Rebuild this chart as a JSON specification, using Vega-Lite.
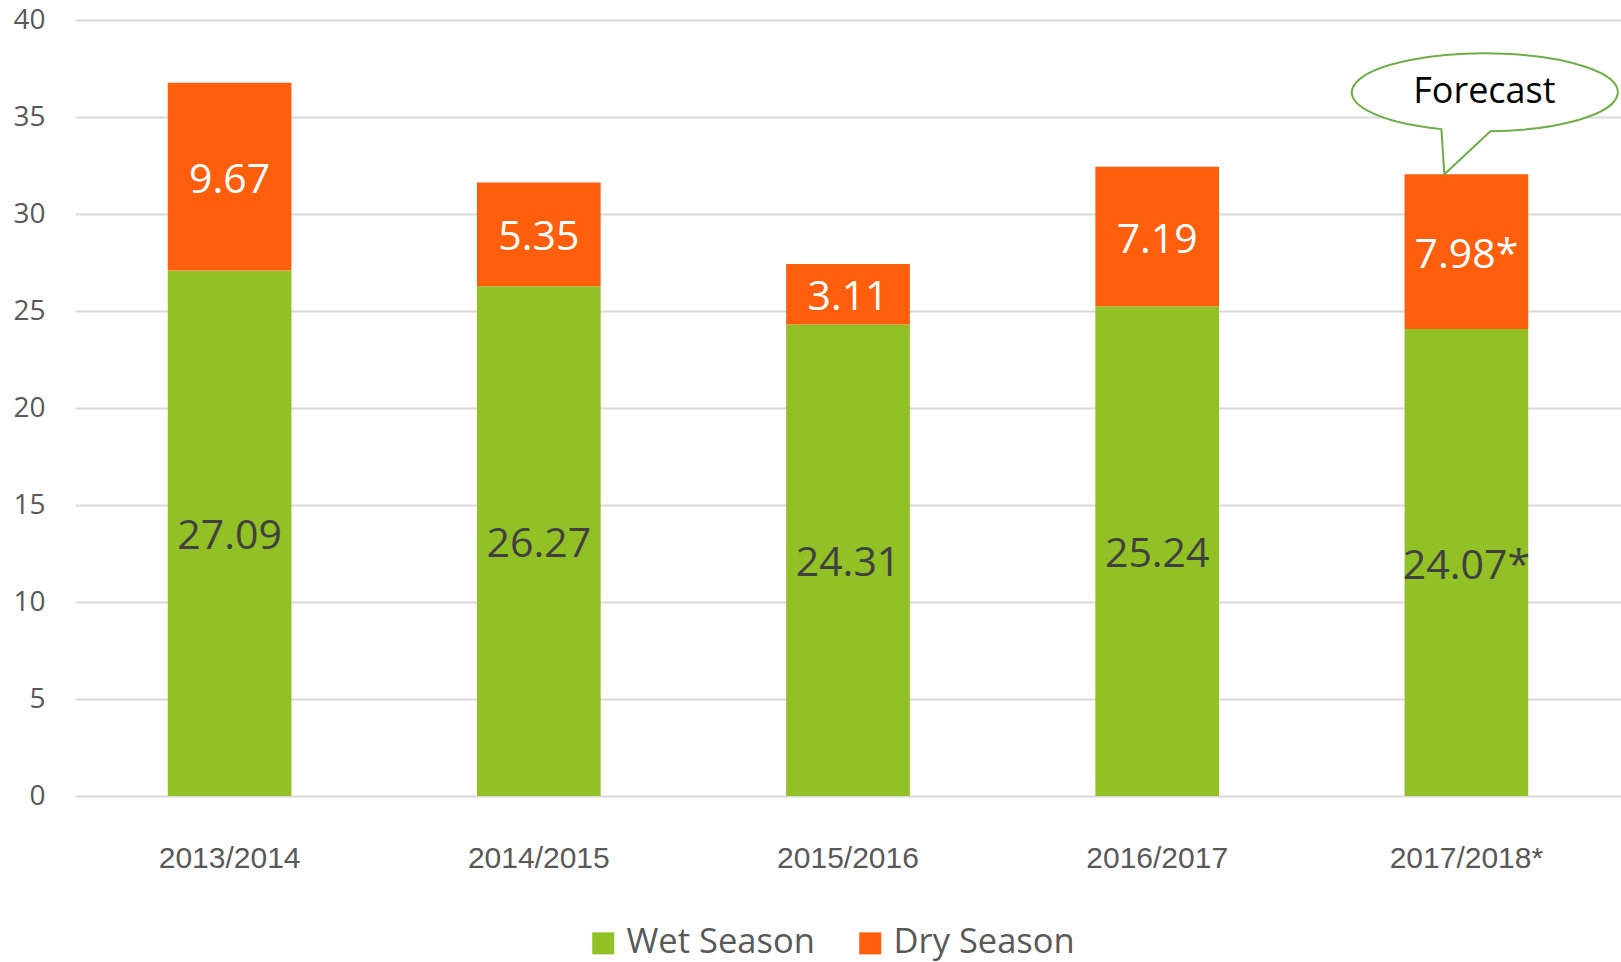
{
  "$schema": "https://vega.github.io/schema/vega-lite/v6.json",
  "autosize": {"type": "none"},
  "padding": {"left": 75, "top": 20, "right": 0, "bottom": 166},
  "width": 1546,
  "height": 776,
  "config": {
    "view": {"stroke": null},
    "font": "Open Sans"
  },
  "datasets": {
    "main": [
      {"period": "2013/2014", "season": "Wet Season", "value": 27.09, "label": "27.09"},
      {"period": "2013/2014", "season": "Dry Season", "value": 9.67, "label": "9.67"},
      {"period": "2014/2015", "season": "Wet Season", "value": 26.27, "label": "26.27"},
      {"period": "2014/2015", "season": "Dry Season", "value": 5.35, "label": "5.35"},
      {"period": "2015/2016", "season": "Wet Season", "value": 24.31, "label": "24.31"},
      {"period": "2015/2016", "season": "Dry Season", "value": 3.11, "label": "3.11"},
      {"period": "2016/2017", "season": "Wet Season", "value": 25.24, "label": "25.24"},
      {"period": "2016/2017", "season": "Dry Season", "value": 7.19, "label": "7.19"},
      {"period": "2017/2018*", "season": "Wet Season", "value": 24.07, "label": "24.07*"},
      {"period": "2017/2018*", "season": "Dry Season", "value": 7.98, "label": "7.98*"}
    ],
    "note": [
      {"period": "2017/2018*", "total": 32.05, "note": "Forecast"}
    ]
  },
  "encoding": {
    "x": {
      "field": "period",
      "type": "nominal",
      "sort": null,
      "scale": {"paddingInner": 0.6, "paddingOuter": 0.3},
      "axis": {
        "title": null,
        "labelAngle": 0,
        "domain": false,
        "ticks": false,
        "labelFont": "Liberation Sans",
        "labelFontSize": 30,
        "labelColor": "#595959",
        "labelPadding": 47
      }
    }
  },
  "layer": [
    {
      "data": {"name": "main"},
      "mark": {"type": "bar"},
      "encoding": {
        "y": {
          "field": "value",
          "type": "quantitative",
          "stack": "zero",
          "scale": {"domain": [0, 40], "nice": false},
          "axis": {
            "title": null,
            "values": [0, 5, 10, 15, 20, 25, 30, 35, 40],
            "domain": false,
            "ticks": false,
            "grid": true,
            "gridColor": "#d9d9d9",
            "gridWidth": 2,
            "labelFontSize": 28,
            "labelColor": "#595959",
            "labelPadding": 30
          }
        },
        "color": {
          "field": "season",
          "type": "nominal",
          "scale": {"domain": ["Wet Season", "Dry Season"], "range": ["#92C126", "#FF5E0D"]},
          "legend": {
            "title": null,
            "orient": "none",
            "legendX": 511,
            "legendY": 906,
            "direction": "horizontal",
            "symbolType": "square",
            "symbolSize": 484,
            "symbolStrokeWidth": 0,
            "symbolOpacity": 1,
            "labelFontSize": 34.5,
            "labelColor": "#595959",
            "labelOffset": 6,
            "labelLimit": 0,
            "columnPadding": 38
          }
        },
        "order": {"field": "season", "sort": "descending"}
      }
    },
    {
      "data": {"name": "main"},
      "mark": {"type": "text", "fontSize": 41, "baseline": "middle", "align": "center", "dy": 4},
      "encoding": {
        "y": {"field": "value", "type": "quantitative", "stack": "zero", "bandPosition": 0.5},
        "detail": {"field": "season"},
        "order": {"field": "season", "sort": "descending"},
        "text": {"field": "label"},
        "color": {
          "field": "season",
          "type": "nominal",
          "scale": {"domain": ["Wet Season", "Dry Season"], "range": ["#404040", "#ffffff"]},
          "legend": null
        }
      }
    },
    {
      "data": {"name": "note"},
      "mark": {
        "type": "point",
        "shape": "M -0.25 -0.451 L -0.22 0 L 0.24 -0.430 A 1.33 0.39 0 1 0 -0.25 -0.451 Z",
        "size": 40000,
        "filled": false,
        "fill": "#ffffff",
        "fillOpacity": 1,
        "stroke": "#70AD47",
        "strokeWidth": 2,
        "opacity": 1
      },
      "encoding": {
        "y": {"field": "total", "type": "quantitative"}
      }
    },
    {
      "data": {"name": "note"},
      "mark": {"type": "text", "fontSize": 36, "color": "#000000", "dx": 18, "dy": -82, "baseline": "middle", "align": "center"},
      "encoding": {
        "y": {"field": "total", "type": "quantitative"},
        "text": {"field": "note"}
      }
    }
  ],
  "resolve": {"scale": {"color": "independent"}}
}
